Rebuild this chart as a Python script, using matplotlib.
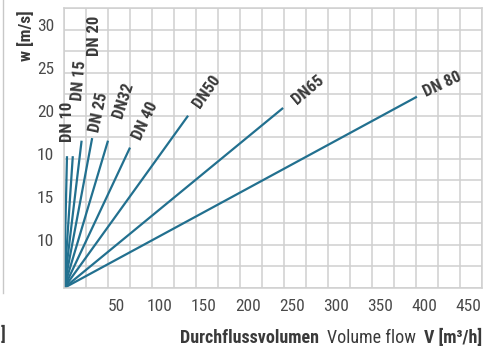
import numpy as np
import matplotlib
matplotlib.use("Agg")
import matplotlib.pyplot as plt
from matplotlib.transforms import ScaledTranslation

plt.rcParams['font.family'] = ['Roboto Condensed', 'Barlow Semi Condensed', 'DejaVu Sans']

# Endpunkte der Kennlinien (Durchfluss m3/h, Geschwindigkeit m/s)
dn_labels = ['DN 10', 'DN 15', 'DN 20', 'DN 25', 'DN32', 'DN 40', 'DN50', 'DN65', 'DN 80']
flow_end = [3.4, 10, 20, 32, 50, 75, 141, 249, 401]
speed_end = [15.3, 15.3, 17.1, 17.4, 17.1, 16.3, 20.0, 20.9, 22.2]

x_ticks = [50, 100, 150, 200, 250, 300, 350, 400, 450]
y_ticks = [5, 10, 15, 20, 25, 30]
y_ticklabels = ['10', '15', '10', '20', '25', '30']

# Beschriftung: Abstand (Pixel) vom Linienende und Drehwinkel
label_offsets = [(1, 34), (6, 76), (13, 105), (7, 26), (15, 40), (15, 27), (19, 24), (25, 18), (25, 12)]
label_rot = [90, 85, 90, 78, 72, 65, 55, 40, 25]

line_col = '#22708f'
text_col = '#3a3a3a'
grid_col = '#d0d0d0'

fig = plt.figure(figsize=(4.96, 3.49), dpi=100)
ax = fig.add_axes([64 / 496, 61 / 349, 418 / 496, 280 / 349])

for xe, ye, lab, off, rot in zip(flow_end, speed_end, dn_labels, label_offsets, label_rot):
    ax.plot([0, xe], [0, ye], color=line_col, lw=1.6, solid_capstyle='butt')
    ax.annotate(lab, (xe, ye), xytext=off, textcoords='offset pixels',
                rotation=rot, ha='center', va='center', fontsize=12,
                fontweight='bold', color=text_col)

ax.set_xlim(0, 475)
ax.set_ylim(0, 32.5)
ax.set_xticks(np.arange(0, 476, 25), minor=True)
ax.set_yticks(np.arange(0, 32.6, 2.5), minor=True)
ax.set_xticks(x_ticks)
ax.set_yticks(y_ticks)
ax.set_yticklabels(y_ticklabels)
ax.grid(which='both', color=grid_col, lw=1.1)
ax.tick_params(which='both', length=0, labelsize=12.5, labelcolor='#4a4a4a')
ax.tick_params(axis='x', pad=8)
ax.tick_params(axis='y', pad=7)
for s in ax.spines.values():
    s.set_color(grid_col)
    s.set_linewidth(1.1)
ax.set_axisbelow(True)

for t in ax.get_xticklabels():
    t.set_transform(t.get_transform() + ScaledTranslation(8 / 100, 0, fig.dpi_scale_trans))
for t in ax.get_yticklabels():
    t.set_transform(t.get_transform() + ScaledTranslation(0, 5 / 100, fig.dpi_scale_trans))

fig.text(26 / 496, 1 - 36 / 349, 'w [m/s]', rotation=90, ha='center', va='center',
         fontsize=12.5, fontweight='bold', color=text_col)

# Achsentitel unten, von rechts nach links zusammengesetzt
fig.canvas.draw()
r = fig.canvas.get_renderer()
x = 482
y = 1 - 338 / 349
for txt, fw in [('V [m³/h]', 'bold'), ('Volume flow', 'normal'), ('Durchflussvolumen', 'bold')]:
    t = fig.text(x / 496, y, txt, ha='right', va='center', fontsize=13, fontweight=fw, color=text_col)
    bb = t.get_window_extent(r)
    x = bb.x0 - 8

# Rest des Nachbardiagramms am linken Rand
fig.add_artist(plt.Line2D([3 / 496, 3 / 496], [1 - 293 / 349, 1], color='#c8c8c8', lw=1))
fig.text(3 / 496, 1 - 335 / 349, ']', ha='center', va='center', fontsize=13,
         fontweight='bold', color=text_col)

fig.savefig('out.png', dpi=100)
